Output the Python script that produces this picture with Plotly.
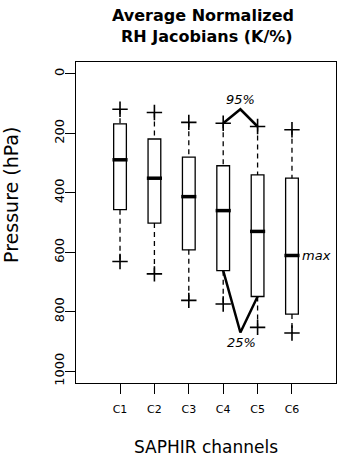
import plotly.graph_objects as go

# ---- data ----
channels = ["C1", "C2", "C3", "C4", "C5", "C6"]
xpos = [1, 2, 3, 4, 5, 6]
whisker_top = [119, 130, 163, 166, 177, 188]     # 95% (upper +)
q_top = [168, 219, 280, 309, 340, 351]           # box top
medians = [289, 351, 413, 460, 530, 611]         # max (thick line)
q_bottom = [457, 502, 592, 662, 749, 808]        # box bottom (25%)
whisker_bottom = [631, 673, 762, 774, 853, 872]  # lower +
y_ticks = [0, 200, 400, 600, 800, 1000]

FONT = "DejaVu Sans"
fig = go.Figure()

# dashed whiskers
for i, x in enumerate(xpos):
    for a, b in ((whisker_top[i], q_top[i]), (q_bottom[i], whisker_bottom[i])):
        fig.add_trace(go.Scatter(x=[x, x], y=[a, b], mode="lines",
                                 line=dict(color="black", width=1.3, dash="5px,4px"),
                                 hoverinfo="skip", showlegend=False))

# boxes
fig.add_trace(go.Box(x=xpos, q1=q_top, median=medians, q3=q_bottom,
                     lowerfence=q_top, upperfence=q_bottom,
                     width=0.37, fillcolor="white",
                     line=dict(color="black", width=1.3),
                     whiskerwidth=0, showlegend=False, hoverinfo="skip"))

# thick medians
for i, x in enumerate(xpos):
    fig.add_trace(go.Scatter(x=[x - 0.22, x + 0.22], y=[medians[i], medians[i]],
                             mode="lines", line=dict(color="black", width=3.5),
                             hoverinfo="skip", showlegend=False))

# plus markers
fig.add_trace(go.Scatter(x=xpos + xpos, y=whisker_top + whisker_bottom, mode="markers",
                         marker=dict(symbol="cross-thin", size=11,
                                     line=dict(color="black", width=1.6)),
                         hoverinfo="skip", showlegend=False))

# 95% and 25% pointer lines
apex_x = 4.5
fig.add_trace(go.Scatter(x=[xpos[3], apex_x, xpos[4]],
                         y=[whisker_top[3], 119, whisker_top[4]],
                         mode="lines", line=dict(color="black", width=2.5),
                         hoverinfo="skip", showlegend=False))
fig.add_trace(go.Scatter(x=[xpos[3], apex_x, xpos[4]],
                         y=[q_bottom[3], 870, q_bottom[4]],
                         mode="lines", line=dict(color="black", width=2.5),
                         hoverinfo="skip", showlegend=False))

ann_font = dict(family=FONT, size=13, color="black", style="italic")
annotations = [
    dict(x=apex_x, y=86, xref="x", yref="y", text="95%", showarrow=False,
         font=ann_font, xanchor="center", yanchor="middle"),
    dict(x=4.52, y=903, xref="x", yref="y", text="25%", showarrow=False,
         font=ann_font, xanchor="center", yanchor="middle"),
    dict(x=6.24, y=medians[5], xref="x", yref="y", text="max", showarrow=False,
         font=ann_font, xanchor="left", yanchor="middle"),
    dict(x=0.488, y=1.146, xref="paper", yref="paper", text="<b>Average Normalized</b>",
         showarrow=False, font=dict(family=FONT, size=16, color="black"),
         xanchor="center", yanchor="middle"),
    dict(x=0.504, y=1.078, xref="paper", yref="paper", text="<b>RH Jacobians (K/%)</b>",
         showarrow=False, font=dict(family=FONT, size=16, color="black"),
         xanchor="center", yanchor="middle"),
    dict(x=0.5, y=-0.2, xref="paper", yref="paper", text="SAPHIR channels",
         showarrow=False, font=dict(family=FONT, size=17, color="black"),
         xanchor="center", yanchor="middle"),
    dict(x=-0.25, y=0.586, xref="paper", yref="paper", text="Pressure (hPa)",
         textangle=-90, showarrow=False, font=dict(family=FONT, size=19, color="black"),
         xanchor="center", yanchor="middle"),
]

fig.update_layout(
    width=340, height=457,
    margin=dict(l=76, r=4, t=62, b=74),
    paper_bgcolor="white", plot_bgcolor="white",
    annotations=annotations,
    showlegend=False,
)
fig.update_xaxes(range=[-0.28, 7.28], tickvals=xpos, ticktext=channels,
                 showgrid=False, zeroline=False, showline=True, mirror=True,
                 linecolor="black", linewidth=1.2, ticks="outside", ticklen=10,
                 tickcolor="black", tickwidth=1.2, automargin=False,
                 ticklabelstandoff=6,
                 tickfont=dict(family=FONT, size=11, color="black"))
fig.update_yaxes(range=[1040, -40], tickvals=y_ticks, ticktext=[str(v) for v in y_ticks],
                 showgrid=False, zeroline=False, showline=True, mirror=True,
                 linecolor="black", linewidth=1.2, ticks="outside", ticklen=10,
                 tickcolor="black", tickwidth=1.2, tickangle=-90, automargin=False,
                 ticklabelstandoff=-4,
                 tickfont=dict(family=FONT, size=13, color="black"))

fig.write_html("out.html", config={"displayModeBar": False},
               post_script="document.body.style.margin='0';document.body.style.overflow='hidden';")
